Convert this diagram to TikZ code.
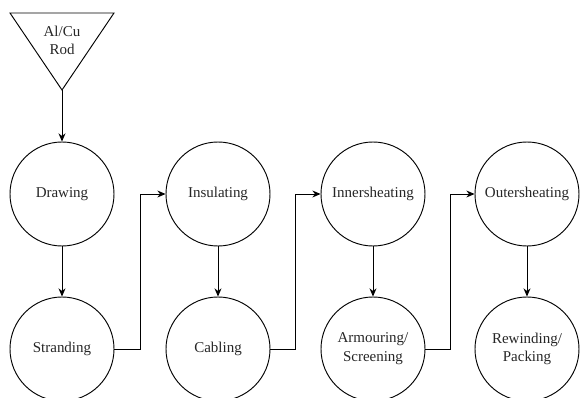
\documentclass[tikz,border=0pt]{standalone}
\usepackage{fontspec}
\setmainfont{Liberation Serif}
\usetikzlibrary{arrows.meta}

\begin{document}
\begin{tikzpicture}[
    x=0.03cm, y=-0.03cm,
    stage/.style={circle, draw, line width=0.8pt, minimum size=3.12cm, inner sep=0pt, align=center, text=black!85, font=\fontsize{12.8}{16}\selectfont},
    label/.style={align=center, text=black!85, font=\fontsize{12.8}{15.5}\selectfont},
    arrow/.style={-{Stealth[length=7pt, width=6pt]}, line width=0.8pt}
]
    \useasboundingbox (0,0) rectangle (580,398);

    % raw material
    \draw[line width=0.8pt] (10,13) -- (114,13) -- (62,90) -- cycle;
    \coordinate (rodtip) at (62,90);
    \node[label] (rod) at (62,40) {Al/Cu\\Rod};

    \node[stage] (drawing)    at (62, 194)  {Drawing};
    \node[stage] (stranding)  at (62, 349)  {Stranding};
    \node[stage] (insulating) at (218, 194) {Insulating};
    \node[stage] (cabling)    at (218, 349) {Cabling};
    \node[stage] (inner)      at (373, 194) {Innersheating};
    \node[stage] (armouring)  at (373, 349) {Armouring/\\Screening};
    \node[stage] (outer)      at (527, 194) {Outersheating};
    \node[stage] (rewinding)  at (527, 349) {Rewinding/\\Packing};

    \draw[arrow] (rodtip)     -- (drawing);
    \draw[arrow] (drawing)    -- (stranding);
    \draw[arrow] (insulating) -- (cabling);
    \draw[arrow] (inner)      -- (armouring);
    \draw[arrow] (outer)      -- (rewinding);

    \draw[arrow] (stranding.east) -- ++(26,0) |- (insulating.west);
    \draw[arrow] (cabling.east)   -- ++(25,0) |- (inner.west);
    \draw[arrow] (armouring.east) -- ++(25,0) |- (outer.west);
\end{tikzpicture}
\end{document}
